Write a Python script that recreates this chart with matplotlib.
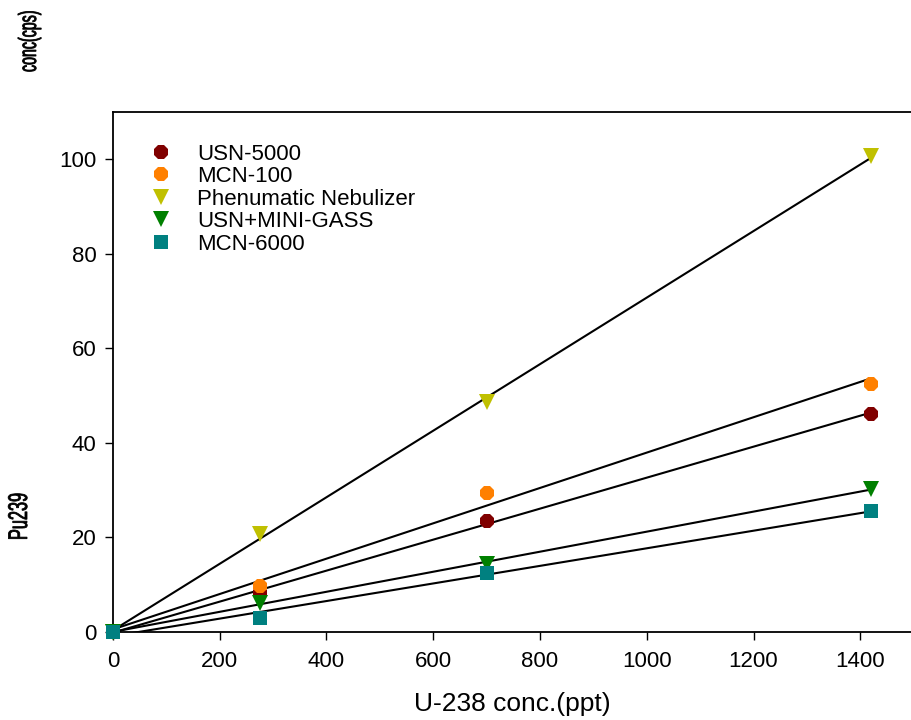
import numpy as np
import matplotlib
matplotlib.use('Agg')
import matplotlib.pyplot as plt
from matplotlib.textpath import TextPath
from matplotlib.patches import PathPatch
from matplotlib.transforms import Affine2D
from matplotlib.font_manager import FontProperties

plt.rcParams['font.family'] = ['Liberation Sans', 'DejaVu Sans']

# ---------- data ----------
u238 = [0, 275, 700, 1420]
usn_5000 = [0, 8.3, 23.5, 46.2]
mcn_100 = [0, 9.8, 29.5, 52.5]
pneumatic = [0, 20.8, 48.6, 100.6]
usn_minigass = [0, 6.2, 14.4, 30.3]
mcn_6000 = [0, 2.9, 12.5, 25.6]

labels = ['USN-5000', 'MCN-100', 'Phenumatic Nebulizer', 'USN+MINI-GASS', 'MCN-6000']
series = [usn_5000, mcn_100, pneumatic, usn_minigass, mcn_6000]
colors = ['#800000', '#ff8000', '#c0c000', '#008000', '#008080']
markers = ['8', '8', 'v', 'v', 's']
msizes = [11, 11, 11, 11, 9.5]

fig = plt.figure(figsize=(9.11, 7.2), dpi=100)
ax = fig.add_axes([0.124, 0.1222, 0.876, 0.7222])

x = np.array(u238, dtype=float)
# linear fit lines
for ys in series:
    k, b = np.polyfit(x, np.array(ys), 1)
    xx = np.array([0, x.max()])
    ax.plot(xx, k * xx + b, color='black', lw=1.5, zorder=2)

for ys, lab, c, m, ms in zip(series, labels, colors, markers, msizes):
    ax.plot(x, ys, linestyle='none', marker=m, color=c, markersize=ms,
            markeredgewidth=0, label=lab, zorder=3, clip_on=False)

ax.set_xlim(0, 1495)
ax.set_ylim(0, 110)
ax.set_xticks(np.arange(0, 1401, 200))
ax.set_yticks(np.arange(0, 101, 20))
ax.spines['right'].set_visible(False)
for s in ['left', 'top', 'bottom']:
    ax.spines[s].set_linewidth(1.3)
ax.tick_params(axis='both', direction='out', length=6, width=1, labelsize=16)
ax.tick_params(axis='x', pad=8)
ax.tick_params(axis='y', pad=6)
ax.set_xlabel('U-238 conc.(ppt)', fontsize=19, labelpad=14)

ax.legend(loc='upper left', bbox_to_anchor=(0.03, 0.965), frameon=False,
          fontsize=16, labelspacing=0.07, handletextpad=1.1,
          handlelength=1.0, borderaxespad=0.2)

# squeezed vertical labels
fp = FontProperties(family='Liberation Sans')


def squeezed_label(txt, x_px, y_px, length, size=24):
    tp = TextPath((0, 0), txt, size=size, prop=fp)
    w = tp.get_extents().width
    tr = Affine2D().scale(length / w, 1).rotate_deg(90).translate(x_px, y_px)
    fig.add_artist(PathPatch(tp, transform=tr, facecolor='black',
                             edgecolor='black', lw=0.6))


squeezed_label('Pu239', 27, 180, 45, size=27)
squeezed_label('conc(cps)', 36, 648, 60, size=25)

plt.savefig('out.png', dpi=100)
